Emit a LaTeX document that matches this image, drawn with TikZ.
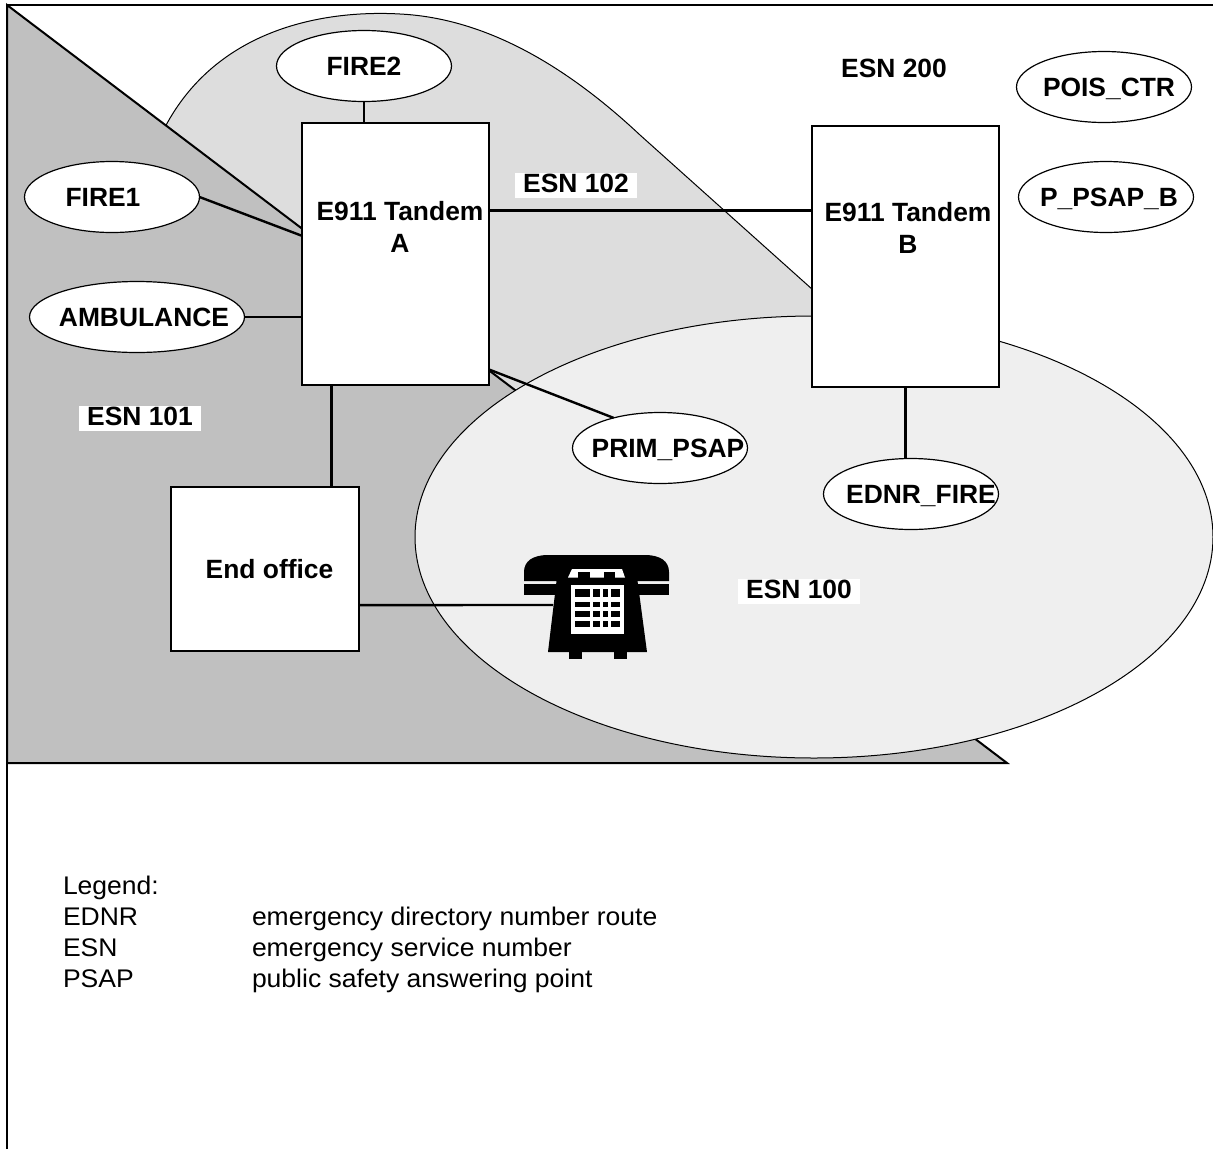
\documentclass[tikz,border=0pt]{standalone}
\usepackage{fontspec}
\setmainfont{Liberation Sans}
\newfontfamily\legendfont[FakeStretch=1.04]{Liberation Sans}
\usetikzlibrary{shapes.geometric}

\definecolor{cc0c0c0}{RGB}{192,192,192}
\definecolor{cdddddd}{RGB}{221,221,221}
\definecolor{cefefef}{RGB}{239,239,239}

% text inside an oval, shifted sideways by half of #1
\newcommand{\ovltxt}[2][0]{\makebox[0pt]{\hspace*{#1pt}\raisebox{0pt}[\height][0pt]{#2}}}

\begin{document}
\begin{tikzpicture}[y=1pt, x=1pt, yscale=-1, inner sep=0pt, outer sep=0pt,
  boldtxt/.style={font=\bfseries\fontsize{26.4}{32}\selectfont},
  oval/.style={ellipse, draw=black, fill=white, line width=1.2pt,
    minimum width=175pt, minimum height=71pt, boldtxt},
  tandem/.style={rectangle, draw=black, fill=white, line width=2pt,
    minimum width=187pt, minimum height=262pt},
  esn/.style={boldtxt, fill=white, inner xsep=8.5pt, inner ysep=1pt,
    text height=19pt, text depth=4pt},
  link/.style={draw=black, line width=2.4pt},
  legendtxt/.style={anchor=base west, font=\legendfont\fontsize{25.5}{31}\selectfont}]
\useasboundingbox (0,0) rectangle (1213,1149);

  % service areas
  \path[draw=black,fill=cdddddd,line width=1pt] (162,133) .. controls (215,25) and
    (330,10) .. (400,14) .. controls (480,18) and (560,60) .. (640,135) --
    (880,350) -- (800,560) -- (300,400) -- (120,150) -- cycle;
  \path[draw=black,fill=cc0c0c0,line width=2pt,line join=miter] (7,5) -- (1007,763) --
    (7,763) -- cycle;
  \path[draw=black,fill=cefefef,line width=1pt] (814,537) ellipse (399pt and 221pt);
  \path[draw=black,line width=2pt] (7,1149) -- (7,5) -- (1213,5);

  % switches and answering points
  \node[oval] (fire2) at (364,66) {\ovltxt{FIRE2}};
  \node[oval] (fire1) at (112,197) {\ovltxt[-18]{FIRE1}};
  \node[oval, minimum width=215pt] (amb) at (137,317) {\ovltxt[14]{AMBULANCE}};
  \node[oval] (prim) at (660,448) {\ovltxt[16]{PRIM\_PSAP}};
  \node[oval] (pois) at (1104,87) {\ovltxt[10]{POIS\_CTR}};
  \node[oval] (ppsapb) at (1106,197) {\ovltxt[6]{P\_PSAP\_B}};
  \node[oval] (ednr) at (911,494) {\ovltxt[20]{EDNR\_FIRE}};

  \node[tandem] (tA) at (395.5,254) {};
  \node[boldtxt, align=center] (tAtxt) at (400,227) {E911 Tandem\\A};
  \node[tandem, minimum height=261pt] (tB) at (905.5,256.5) {};
  \node[boldtxt, align=center] (tBtxt) at (908,228) {E911 Tandem\\B};
  \node[tandem, minimum width=188pt, minimum height=164pt, boldtxt] (eo) at
    (265,569) {\ovltxt[9]{End office}};

  \node[esn] (esn101) at (140,418) {ESN 101};
  \node[esn] (esn102) at (576,185) {ESN 102};
  \node[esn] (esn100) at (799,591) {ESN 100};
  \node[boldtxt] (esn200) at (894,68) {ESN 200};

  % telephone
  \path[fill=black] (524,581) -- (524,572) .. controls (524,561) and (533,555) ..
    (548,555) -- (645,555) .. controls (660,555) and (669,561) .. (669,572) --
    (669,581) -- cycle;
  \path[fill=black] (524,584) rectangle (561,595);
  \path[fill=black] (632,584) rectangle (669,595);
  \path[fill=black] (557,577) -- (637,577) -- (647,652) -- (548,652) -- cycle;
  \path[fill=black] (569,651) rectangle (582,659);
  \path[fill=black] (614,651) rectangle (627,659);
  \path[fill=white] (572,569) -- (622,569) -- (625,577.5) -- (568,577.5) -- cycle;
  \path[fill=black] (578,572) rectangle (590,578);
  \path[fill=black] (604,572) rectangle (615,578);
  \path[fill=white] (571,585) rectangle (624,634);
  \foreach \ya/\yb in {589/597,602/607,611/617,621/627}
    \foreach \xa/\xb in {575/590,593/600,603/608,611/620}
      \path[fill=black] (\xa,\ya) rectangle (\xb,\yb);
  \coordinate (phone) at (553,605);

  % trunks
  \path[link] (fire2.south) -- (fire2.south |- tA.north);
  \path[link] (fire1.east) -- (tA.169);
  \path[link] (amb.east) -- (amb.east -| tA.west);
  \path[link] (tA.-116.6) -- (tA.-116.6 |- eo.north);
  \path[link] (tA.-51) -- (prim.147);
  \path[link] (tA.25) -- (tA.25 -| tB.west);
  \path[link] (tB.south) -- (tB.south |- ednr.north);
  \path[link] (eo.-21) -- (phone);

  % legend
  \node[legendtxt] (leg) at (63,894) {Legend:};
  \node[legendtxt] (legk1) at (63,925) {EDNR};
  \node[legendtxt] (legv1) at (252,925) {emergency directory number route};
  \node[legendtxt] (legk2) at (63,956) {ESN};
  \node[legendtxt] (legv2) at (252,956) {emergency service number};
  \node[legendtxt] (legk3) at (63,987) {PSAP};
  \node[legendtxt] (legv3) at (252,987) {public safety answering point};

\end{tikzpicture}
\end{document}
